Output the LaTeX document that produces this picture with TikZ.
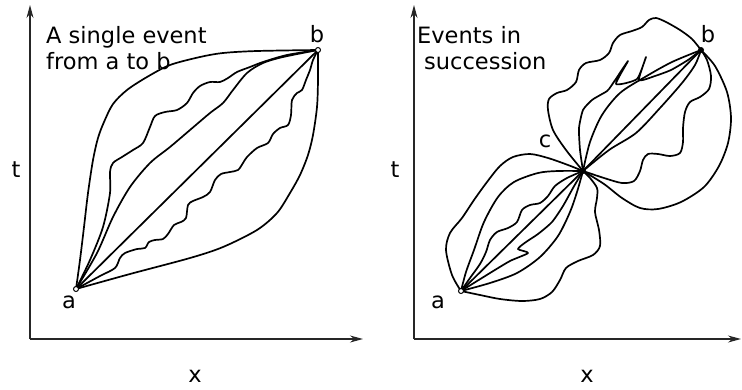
\documentclass[tikz,border=0pt]{standalone}
\usepackage{fontspec}
\setmainfont{DejaVu Sans}
\usetikzlibrary{arrows.meta}
\begin{document}
\begin{tikzpicture}[x=1pt,y=-1pt,
  wl/.style={line width=1.7pt, line join=round, line cap=round},
  axis/.style={line width=1.1pt, draw=black!85, -{Stealth[length=13pt,width=7pt]}},
  lbl/.style={font=\fontsize{22.5}{26}\selectfont, anchor=base, inner sep=0},
  ttl/.style={font=\fontsize{22.5}{26}\selectfont, anchor=base west, inner sep=0},
  opendot/.style={circle, draw, fill=white, line width=1pt, inner sep=0, minimum size=5pt},
  fulldot/.style={circle, fill=black, inner sep=0, minimum size=6pt}]
\useasboundingbox (0,0) rectangle (742,389);

% ---------- left panel ----------
\coordinate (O1) at (30,339);
\coordinate (Y1) at (30,5);
\coordinate (X1) at (363,339);
\draw[axis] (O1) -- (Y1);
\draw[axis] (O1) -- (X1);
\coordinate (a1) at (76,289);
\coordinate (b1) at (318,50);

\draw[wl] plot[smooth] coordinates {(a1) (80,260) (84,227) (88,193) (93,160) (98,138) (104,122) (113,104) (127,90) (147,77) (170,65) (200,57) (223,53) (257,51) (b1)};
\draw[wl] plot[smooth] coordinates {(a1) (90,260) (103,227) (110,193) (110,172) (113,163) (122,157) (133,150) (143,143) (150,127) (155,116) (165,112) (177,110) (187,103) (193,93) (200,86) (210,82) (220,82) (228,78) (237,72) (250,67) (263,62) (287,55) (b1)};
\draw[wl] plot[smooth] coordinates {(a1) (97,253) (113,217) (130,187) (150,163) (170,147) (190,130) (210,113) (223,103) (233,90) (247,73) (263,63) (283,57) (b1)};
\draw[wl] (a1) -- (b1);
\draw[wl] plot[smooth] coordinates {(a1) (100,276) (115,268) (120,258) (125,253) (137,249) (145,248) (149,242) (155,240) (163,239) (168,234) (174,225) (181,222) (186,218) (188,205) (193,201) (203,197) (210,192) (215,180) (221,174) (230,172) (238,170) (243,163) (247,157) (257,148) (268,143) (273,134) (280,128) (288,125) (291,115) (292,100) (297,93) (302,90) (306,80) (310,70) (313,60) (b1)};
\draw[wl] plot[smooth] coordinates {(a1) (130,274) (190,258) (223,247) (257,230) (277,213) (290,193) (300,175) (308,155) (313,135) (317,107) (318,80) (b1)};

\node[opendot] (pa1) at (a1) {};
\node[opendot] (pb1) at (b1) {};
\node[lbl] (la1) at (69,308) {a};
\node[lbl] (lb1) at (317,42) {b};
\node[lbl] (lt1) at (16,177) {t};
\node[lbl] (lx1) at (195,382) {x};
\node[ttl] (tt1a) at (46,43) {A single event};
\node[ttl] (tt1b) at (46,69) {from a to b};

% ---------- right panel ----------
\coordinate (O2) at (414,339);
\coordinate (Y2) at (414,5);
\coordinate (X2) at (741,339);
\draw[axis] (O2) -- (Y2);
\draw[axis] (O2) -- (X2);
\coordinate (a2) at (461,291);
\coordinate (c2) at (583,171);
\coordinate (b2) at (701,50);

% lower lobe a -> c
\draw[wl] plot[smooth] coordinates {(a2) (452,275) (446,250) (450,233) (462,218) (474,200) (487,182) (500,166) (513,157) (530,154) (548,158) (568,165) (c2)};
\draw[wl] plot[smooth] coordinates {(a2) (466,272) (474,250) (484,222) (498,197) (514,182) (538,173) (558,171) (c2)};
\draw[wl] plot[smooth] coordinates {(a2) (470,278) (480,264) (486,252) (490,240) (497,232) (508,228) (517,222) (522,210) (530,205) (540,203) (548,196) (555,186) (567,178) (c2)};
\draw[wl] (a2) -- (c2);
\draw[wl] plot[smooth, tension=0.4] coordinates {(a2) (490,273) (510,261) (528,253) (518,249) (526,242) (538,234) (552,222) (563,206) (573,188) (c2)};
\draw[wl] plot[smooth] coordinates {(a2) (490,283) (517,273) (540,257) (558,236) (570,212) (577,192) (c2)};
\draw[wl] plot[smooth] coordinates {(a2) (480,295) (500,299) (522,301) (540,299) (552,292) (560,280) (566,268) (578,261) (593,255) (600,246) (599,230) (595,212) (597,198) (597,188) (590,178) (c2)};

% upper lobe c -> b
\draw[wl] plot[smooth] coordinates {(c2) (566,150) (553,130) (548,110) (549,99) (557,93) (567,90) (576,82) (579,70) (586,63) (600,60) (609,53) (613,43) (620,35) (632,31) (642,27) (649,20) (656,18) (666,22) (680,30) (692,39) (b2)};
\draw[wl] plot[smooth, tension=0.35] coordinates {(c2) (580,150) (579,128) (583,110) (592,100) (602,94) (609,89) (628,61) (616,84) (637,79) (646,57) (639,80) (655,76) (671,70) (688,60) (b2)};
\draw[wl] plot[smooth] coordinates {(c2) (590,142) (602,115) (620,93) (645,77) (672,62) (b2)};
\draw[wl] (c2) -- (b2);
\draw[wl] plot[smooth] coordinates {(c2) (609,150) (636,133) (660,108) (682,83) (695,65) (b2)};
\draw[wl] plot[smooth] coordinates {(c2) (604,178) (622,183) (634,181) (640,171) (643,160) (648,154) (658,154) (670,156) (680,153) (683,142) (683,128) (685,112) (690,102) (700,97) (709,89) (711,76) (707,60) (b2)};
\draw[wl] plot[smooth] coordinates {(c2) (604,184) (622,198) (640,208) (658,209) (681,202) (704,187) (719,166) (728,143) (731,118) (727,92) (715,66) (b2)};

\node[opendot] (pa2) at (a2) {};
\node[fulldot] (pc2) at (c2) {};
\node[fulldot] (pb2) at (b2) {};
\node[lbl] (la2) at (438,308) {a};
\node[lbl] (lc2) at (545,147) {c};
\node[lbl] (lb2) at (708,42) {b};
\node[lbl] (lt2) at (395,177) {t};
\node[lbl] (lx2) at (587,382) {x};
\node[ttl] (tt2a) at (417,43) {Events in};
\node[ttl] (tt2b) at (424,69) {succession};
\end{tikzpicture}
\end{document}
